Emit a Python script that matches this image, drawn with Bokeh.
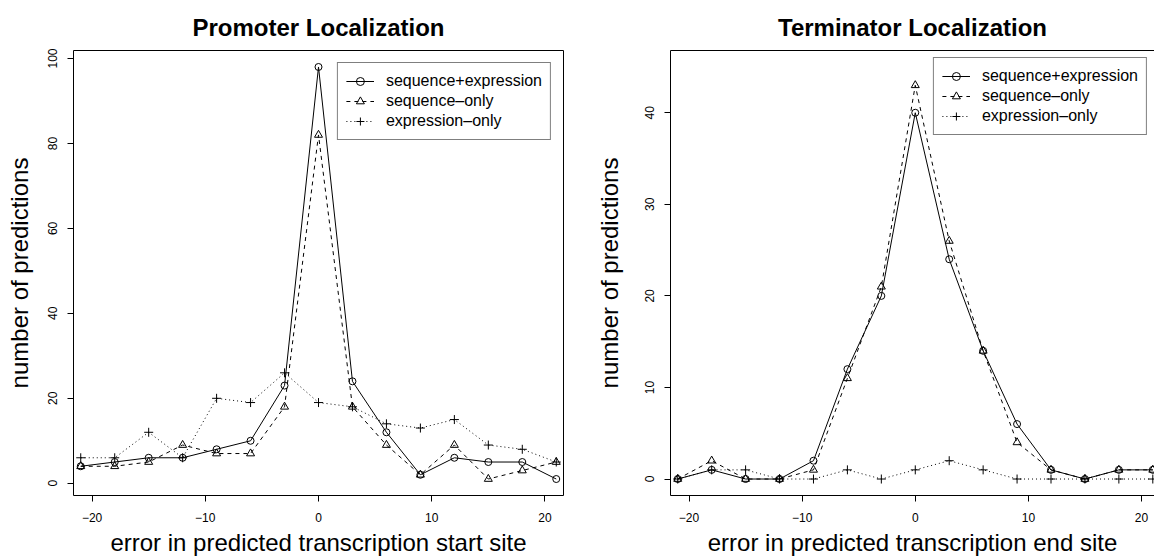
from bokeh.plotting import figure
from bokeh.models import Legend, LegendItem, FixedTicker, Range1d, LinearAxis
from bokeh.layouts import row
from bokeh.embed import file_html
from bokeh.resources import INLINE

# ---------------- data ----------------
offsets = [-21, -18, -15, -12, -9, -6, -3, 0, 3, 6, 9, 12, 15, 18, 21]

promoter_seq_expr = [4, 5, 6, 6, 8, 10, 23, 98, 24, 12, 2, 6, 5, 5, 1]
promoter_seq_only = [4, 4, 5, 9, 7, 7, 18, 82, 18, 9, 2, 9, 1, 3, 5]
promoter_expr_only = [6, 6, 12, 6, 20, 19, 26, 19, 18, 14, 13, 15, 9, 8, 5]

terminator_seq_expr = [0, 1, 0, 0, 2, 12, 20, 40, 24, 14, 6, 1, 0, 1, 1]
terminator_seq_only = [0, 2, 0, 0, 1, 11, 21, 43, 26, 14, 4, 1, 0, 1, 1]
terminator_expr_only = [0, 1, 1, 0, 0, 1, 0, 1, 2, 1, 0, 0, 0, 0, 0]

series_names = ["sequence+expression", "sequence\u2013only", "expression\u2013only"]

x_ticks = [-20, -10, 0, 10, 20]
promoter_y_ticks = [0, 20, 40, 60, 80, 100]
terminator_y_ticks = [0, 10, 20, 30, 40]

FONT = "Liberation Sans"


def label_overrides(ticks):
    return {t: (("\u2212" + str(-t)) if t < 0 else str(t)) for t in ticks}


def make_panel(title, xlabel, series, y_ticks, x_range, y_range, width,
               border_left, border_right, legend_margin, ylabel_standoff, open_right):
    p = figure(width=width, height=558, output_backend="svg", toolbar_location=None,
               x_range=x_range, y_range=y_range,
               min_border_left=border_left, min_border_right=border_right,
               min_border_top=50, min_border_bottom=61)
    p.title.text = title
    p.title.text_font = FONT
    p.title.text_font_size = "24px"
    p.title.text_font_style = "bold"
    p.title.align = "center"
    p.title.text_color = "#000000"
    p.title.standoff = 20

    p.grid.visible = False
    p.background_fill_color = "white"
    p.border_fill_color = "white"

    xax = p.xaxis[0]
    yax = p.yaxis[0]
    for ax in (xax, yax):
        ax.axis_line_color = "black" if open_right else None
        ax.major_tick_out = 6
        ax.major_tick_in = 0
        ax.minor_tick_line_color = None
        ax.major_tick_line_color = "black"
        ax.major_label_text_font = FONT
        ax.major_label_text_font_size = "12px"
        ax.major_label_text_color = "#000000"
        ax.axis_label_text_font = FONT
        ax.axis_label_text_font_size = "24px"
        ax.axis_label_text_font_style = "normal"
        ax.axis_label_text_color = "#000000"

    xax.ticker = FixedTicker(ticks=x_ticks)
    xax.major_label_overrides = label_overrides(x_ticks)
    xax.major_label_standoff = 11
    xax.axis_label = xlabel
    xax.axis_label_standoff = 4

    yax.ticker = FixedTicker(ticks=y_ticks)
    yax.major_label_orientation = "vertical"
    yax.major_label_standoff = 10
    yax.axis_label = "number of predictions"
    yax.axis_label_standoff = ylabel_standoff

    # top side of the box (same empty axis on both panels keeps frames aligned)
    top = LinearAxis(ticker=FixedTicker(ticks=[]),
                     axis_line_color="black" if open_right else None,
                     major_tick_out=0, major_tick_in=0, minor_tick_out=0,
                     minor_tick_in=0, major_label_standoff=0,
                     minor_tick_line_color=None, major_tick_line_color=None)
    p.add_layout(top, "above")

    if open_right:
        # box whose right side lies beyond the visible area
        p.outline_line_color = None
    else:
        p.outline_line_color = "black"
        p.outline_line_width = 1

    styles = [
        dict(dash="solid", marker="circle", size=7),
        dict(dash="4 4", marker="triangle", size=8),
        dict(dash="1 3", marker="cross", size=9),
    ]
    items = []
    for name, ys, st in zip(series_names, series, styles):
        ln = p.line(offsets, ys, line_color="black", line_width=1, line_dash=st["dash"])
        sc = p.scatter(offsets, ys, marker=st["marker"], size=st["size"],
                       line_color="black", fill_color=None, line_width=1)
        items.append(LegendItem(label=name, renderers=[ln, sc]))

    legend = Legend(items=items, location="top_right", margin=legend_margin,
                    border_line_color="black", border_line_width=1,
                    background_fill_color="white", background_fill_alpha=1,
                    label_text_font=FONT, label_text_font_size="16px",
                    label_text_color="#000000",
                    glyph_width=28, glyph_height=20, label_height=20,
                    label_standoff=12, spacing=0, padding=8)
    p.add_layout(legend, "center")
    return p


left = make_panel("Promoter Localization", "error in predicted transcription start site",
                  [promoter_seq_expr, promoter_seq_only, promoter_expr_only],
                  promoter_y_ticks, Range1d(-21.64, 21.64), Range1d(-2.88, 101.88),
                  width=590, border_left=73, border_right=27, legend_margin=12,
                  ylabel_standoff=13, open_right=False)

right = make_panel("Terminator Localization", "error in predicted transcription end site",
                   [terminator_seq_expr, terminator_seq_only, terminator_expr_only],
                   terminator_y_ticks, Range1d(-21.64, 21.15), Range1d(-1.8, 46.8),
                   width=564, border_left=80, border_right=0, legend_margin=7,
                   ylabel_standoff=20, open_right=True)

layout = row(left, right)
open("out.html", "w").write(file_html(layout, INLINE))
